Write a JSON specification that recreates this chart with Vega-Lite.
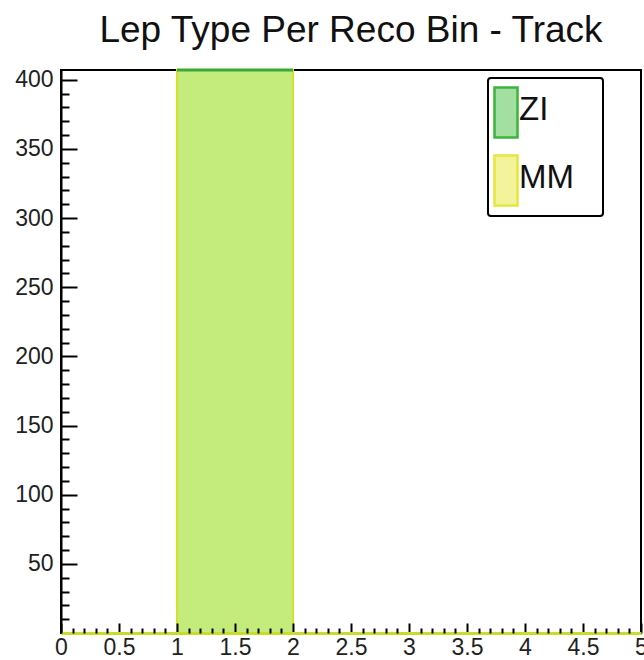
{
  "$schema": "https://vega.github.io/schema/vega-lite/v6.json",
  "autosize": {"type": "none"},
  "padding": {"left": 61, "top": 70, "right": 3, "bottom": 27},
  "width": 580,
  "height": 563,
  "background": "white",
  "config": {
    "view": {"stroke": "#000000", "strokeWidth": 2},
    "font": "Liberation Sans"
  },
  "title": {
    "text": "Lep Type Per Reco Bin - Track",
    "font": "Liberation Sans",
    "fontSize": 37,
    "fontWeight": "normal",
    "color": "#111111",
    "anchor": "middle",
    "frame": "group",
    "offset": 19
  },
  "data": {
    "values": [
      {"type": "ZI", "lo": 1, "hi": 2, "n": 407},
      {"type": "MM", "lo": 1, "hi": 2, "n": 407}
    ]
  },
  "resolve": {"axis": {"x": "independent", "y": "independent"}},
  "layer": [
    {
      "mark": {"type": "bar", "strokeWidth": 2},
      "encoding": {
        "x": {
          "field": "lo", "type": "quantitative",
          "scale": {"domain": [0, 5], "nice": false, "zero": false},
          "axis": {
            "orient": "bottom", "title": null, "grid": false, "zindex": 1,
            "values": [0, 0.5, 1, 1.5, 2, 2.5, 3, 3.5, 4, 4.5, 5],
            "format": "~g",
            "tickSize": -10, "tickWidth": 2, "tickColor": "#000000",
            "domainColor": "#c9dc2a", "domainWidth": 3,
            "labelFontSize": 23, "labelColor": "#222222", "labelPadding": 24,
            "labelBaseline": "middle", "labelFlush": false, "labelOverlap": false, "labelBound": false
          }
        },
        "x2": {"field": "hi"},
        "y": {
          "field": "n", "type": "quantitative", "stack": null,
          "scale": {"domain": [0, 407], "nice": false, "zero": true},
          "axis": {
            "orient": "left", "title": null, "grid": false, "zindex": 1,
            "values": [50, 100, 150, 200, 250, 300, 350, 400],
            "tickSize": -16, "tickWidth": 2, "tickColor": "#000000",
            "domainColor": "#000000", "domainWidth": 2,
            "labelFontSize": 23, "labelColor": "#222222", "labelPadding": 24,
            "labelFlush": false, "labelOverlap": false, "labelBound": false
          }
        },
        "y2": {"datum": 0},
        "fill": {
          "field": "type", "type": "nominal",
          "scale": {"domain": ["ZI", "MM"], "range": ["#a3dfa0", "#f3f39c"]},
          "legend": {
            "title": null,
            "orient": "none",
            "legendX": 427,
            "legendY": 8,
            "direction": "vertical",
            "padding": 5,
            "strokeColor": "#000000",
            "fillColor": "#ffffff",
            "cornerRadius": 3,
            "symbolType": "M-1,-0.88H-0.08V1.12H-1Z",
            "symbolSize": 2500,
            "symbolStrokeWidth": 2.5,
            "symbolOpacity": 1,
            "labelFontSize": 33,
            "labelFont": "Liberation Sans",
            "labelColor": "#111111",
            "labelOffset": -27,
            "rowPadding": 7,
            "labelExpr": "datum.label + '\u2800'",
            "encode": {"legend": {"update": {"strokeWidth": {"value": 2}}}}
          }
        },
        "stroke": {
          "field": "type", "type": "nominal",
          "scale": {"domain": ["ZI", "MM"], "range": ["#3cb43c", "#e4e838"]},
          "legend": {
            "title": null,
            "orient": "none",
            "legendX": 427,
            "legendY": 8,
            "direction": "vertical",
            "padding": 5,
            "strokeColor": "#000000",
            "fillColor": "#ffffff",
            "cornerRadius": 3,
            "symbolType": "M-1,-0.88H-0.08V1.12H-1Z",
            "symbolSize": 2500,
            "symbolStrokeWidth": 2.5,
            "symbolOpacity": 1,
            "labelFontSize": 33,
            "labelFont": "Liberation Sans",
            "labelColor": "#111111",
            "labelOffset": -27,
            "rowPadding": 7,
            "labelExpr": "datum.label + '\u2800'",
            "encode": {"legend": {"update": {"strokeWidth": {"value": 2}}}}
          }
        }
      }
    },
    {
      "transform": [{"filter": "datum.type === 'MM'"}],
      "mark": {"type": "bar", "fill": "#c4ec7c", "stroke": "#d2e224", "strokeWidth": 2},
      "encoding": {
        "x": {"field": "lo", "type": "quantitative", "axis": null},
        "x2": {"field": "hi"},
        "y": {"field": "n", "type": "quantitative", "axis": null},
        "y2": {"datum": 0}
      }
    },
    {
      "transform": [{"filter": "datum.type === 'ZI'"}],
      "mark": {"type": "rule", "stroke": "#3aaa35", "strokeWidth": 3},
      "encoding": {
        "x": {
          "field": "lo", "type": "quantitative",
          "axis": {
            "orient": "bottom", "title": null, "grid": false, "zindex": 1,
            "values": [0.1, 0.2, 0.3, 0.4, 0.6, 0.7, 0.8, 0.9, 1.1, 1.2, 1.3, 1.4, 1.6, 1.7, 1.8, 1.9, 2.1, 2.2, 2.3, 2.4, 2.6, 2.7, 2.8, 2.9, 3.1, 3.2, 3.3, 3.4, 3.6, 3.7, 3.8, 3.9, 4.1, 4.2, 4.3, 4.4, 4.6, 4.7, 4.8, 4.9],
            "tickSize": -5, "tickWidth": 2, "tickColor": "#000000",
            "domain": false, "labels": false
          }
        },
        "x2": {"field": "hi"},
        "y": {
          "field": "n", "type": "quantitative",
          "axis": {
            "orient": "left", "title": null, "grid": false, "zindex": 1,
            "values": [10, 20, 30, 40, 60, 70, 80, 90, 110, 120, 130, 140, 160, 170, 180, 190, 210, 220, 230, 240, 260, 270, 280, 290, 310, 320, 330, 340, 360, 370, 380, 390],
            "tickSize": -8, "tickWidth": 2, "tickColor": "#000000",
            "domain": false, "labels": false
          }
        }
      }
    }
  ]
}
